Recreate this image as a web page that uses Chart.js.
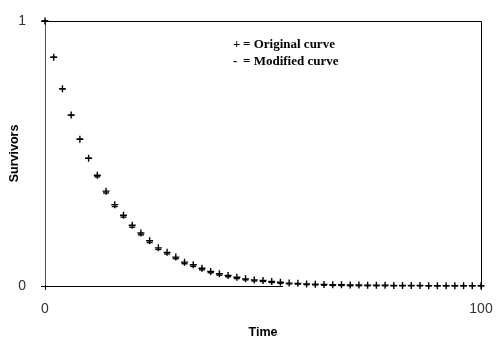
<!DOCTYPE html>
<html>
<head>
<meta charset="utf-8">
<script src="https://cdn.jsdelivr.net/npm/chart.js@4/dist/chart.umd.min.js"></script>
<style>
  html, body { margin: 0; padding: 0; background: #fff; }
  #wrap { width: 502px; height: 352px; }
</style>
</head>
<body>
<div id="wrap"><canvas id="canvas" width="502" height="352"></canvas></div>
<script>
// time points (0..100 every 2)
var times = [0, 2, 4, 6, 8, 10, 12, 14, 16, 18, 20, 22, 24, 26, 28, 30, 32, 34, 36, 38, 40,
    42, 44, 46, 48, 50, 52, 54, 56, 58, 60, 62, 64, 66, 68, 70, 72, 74, 76, 78, 80,
    82, 84, 86, 88, 90, 92, 94, 96, 98, 100];
var original = [1.000, 0.863, 0.744, 0.645, 0.554, 0.482, 0.418, 0.358, 0.307, 0.267, 0.229,
    0.200, 0.171, 0.144, 0.127, 0.109, 0.090, 0.080, 0.067, 0.055, 0.046,
    0.040, 0.033, 0.027, 0.023, 0.021, 0.017, 0.014, 0.011, 0.010, 0.008,
    0.007, 0.006, 0.005, 0.005, 0.004, 0.004, 0.003, 0.003, 0.003, 0.002,
    0.002, 0.002, 0.002, 0.001, 0.001, 0.001, 0.001, 0.001, 0.001, 0.001];
var modified = [1.000, 0.863, 0.744, 0.645, 0.554, 0.482, 0.412, 0.351, 0.300, 0.260, 0.222,
    0.193, 0.164, 0.138, 0.121, 0.103, 0.084, 0.074, 0.061, 0.050, 0.041,
    0.035, 0.028, 0.023, 0.019, 0.017, 0.013, 0.010, 0.008, 0.007, 0.005,
    0.004, 0.003, 0.002, 0.002, 0.001, 0.001, 0.001, 0.001, 0.001, 0.001,
    0.001, 0.001, 0.001, 0.001, 0.001, 0.001, 0.001, 0.001, 0.001, 0.001];
// the bottom axis line only runs part of the way
var axisStart = 0;
var axisEnd = 54.6;
var xTicks = [0, 100];
var yTicks = [0, 1];
var legendLines = [['+', '= Original curve'], ['-', '= Modified curve']];

function pts(xs, ys) {
    var out = [];
    for (var i = 0; i < xs.length; i++) out.push({x: xs[i], y: ys[i]});
    return out;
}

// top + right frame, partial base line, tick marks and the text legend
var framePlugin = {
    id: 'frame',
    afterDraw: function (chart) {
        var a = chart.chartArea, ctx = chart.ctx;
        var sx = chart.scales.x, sy = chart.scales.y;
        ctx.save();
        ctx.strokeStyle = '#000';
        ctx.lineWidth = 1;
        ctx.beginPath();
        ctx.moveTo(a.left, a.top + 0.5);
        ctx.lineTo(a.right + 0.5, a.top + 0.5);
        ctx.lineTo(a.right + 0.5, a.bottom);
        yTicks.forEach(function (v) {
            var py = Math.round(sy.getPixelForValue(v)) + 0.5;
            ctx.moveTo(a.left - 4, py);
            ctx.lineTo(a.left + 1, py);
        });
        xTicks.forEach(function (v) {
            var px = Math.round(sx.getPixelForValue(v)) + 0.5;
            ctx.moveTo(px, a.bottom - 1);
            ctx.lineTo(px, a.bottom + 4);
        });
        ctx.stroke();
        var x0 = Math.round(sx.getPixelForValue(axisStart));
        var x1 = Math.round(sx.getPixelForValue(axisEnd));
        var yb = Math.round(sy.getPixelForValue(0));
        ctx.fillStyle = '#000';
        ctx.fillRect(x0, yb, x1 - x0, 1);
        ctx.font = 'bold 13px "Liberation Serif", "Times New Roman", serif';
        ctx.textBaseline = 'middle';
        for (var i = 0; i < legendLines.length; i++) {
            var y = 45 + i * 17;
            ctx.fillText(legendLines[i][0], 233, y);
            ctx.fillText(legendLines[i][1], 243, y);
        }
        ctx.restore();
    }
};

var config = {
    type: 'scatter',
    data: {
        datasets: [
            {
                label: 'Original curve',
                data: pts(times, original),
                pointStyle: 'cross',
                radius: 3.5,
                borderWidth: 1.4,
                borderColor: '#000',
                backgroundColor: '#000',
                clip: false
            },
            {
                label: 'Modified curve',
                data: pts(times, modified),
                pointStyle: 'line',
                radius: 3,
                borderWidth: 1.4,
                borderColor: '#000',
                backgroundColor: '#000',
                clip: false
            }
        ]
    },
    options: {
        responsive: false,
        animation: false,
        layout: { padding: { left: 0, right: 21, top: 21, bottom: 0 } },
        plugins: {
            legend: { display: false },
            tooltip: { enabled: false }
        },
        scales: {
            x: {
                type: 'linear',
                min: 0,
                max: 100,
                afterFit: function (s) { s.height = 66; },
                afterBuildTicks: function (s) { s.ticks = xTicks.map(function (v) { return {value: v}; }); },
                border: { display: false },
                grid: { display: false },
                ticks: { color: '#333', padding: 7, maxRotation: 0, font: { family: 'Liberation Sans, Arial', size: 14 } },
                title: {
                    display: true,
                    text: 'Time',
                    color: '#000',
                    padding: { top: 12, bottom: 12 },
                    font: { family: 'Liberation Sans, Arial', size: 12.5, weight: 'bold' }
                }
            },
            y: {
                min: 0,
                max: 1,
                afterFit: function (s) { s.width = 45; },
                afterBuildTicks: function (s) { s.ticks = yTicks.map(function (v) { return {value: v}; }); },
                border: { display: true, color: '#555', width: 1 },
                grid: { display: false },
                ticks: { color: '#333', padding: 11, font: { family: 'Liberation Sans, Arial', size: 14 } },
                title: {
                    display: true,
                    text: 'Survivors',
                    color: '#000',
                    padding: { top: 7, bottom: 7 },
                    font: { family: 'Liberation Sans, Arial', size: 12.5, weight: 'bold' }
                }
            }
        }
    },
    plugins: [framePlugin]
};

function start() {
    var ctx = document.getElementById('canvas').getContext('2d');
    new Chart(ctx, config);
}
start();
</script>
</body>
</html>
